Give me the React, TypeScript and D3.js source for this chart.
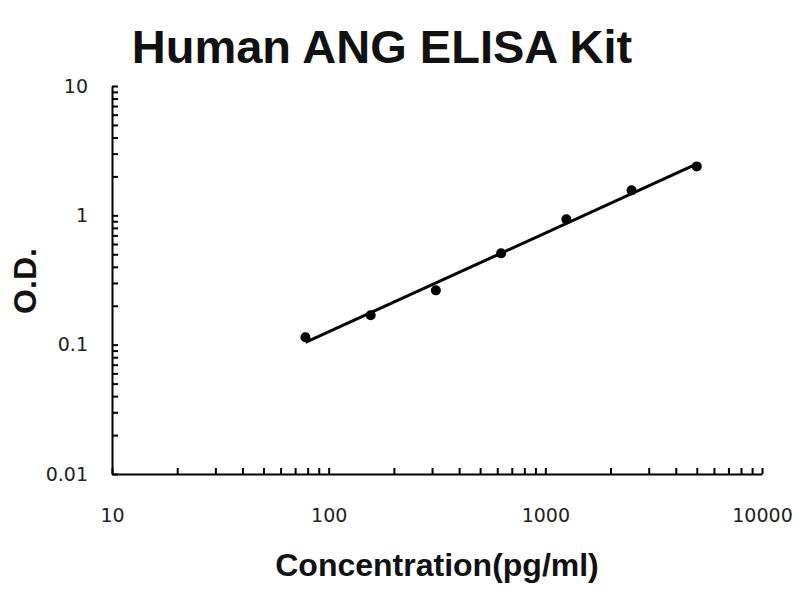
import { useEffect, useRef } from 'react'
import * as d3 from 'd3'

const title = 'Human ANG ELISA Kit'
const xLabel = 'Concentration(pg/ml)'
const yLabel = 'O.D.'

// standard curve points (pg/ml, OD)
const concentrations = [78.125, 156.25, 312.5, 625, 1250, 2500, 5000]
const odValues = [0.114, 0.169, 0.263, 0.508, 0.931, 1.56, 2.39]

const xDecades = [10, 100, 1000, 10000]
const yDecades = [0.01, 0.1, 1, 10]
const xTickLabels = ['10', '100', '1000', '10000']
const yTickLabels = ['0.01', '0.1', '1', '10']

const font = '"Liberation Sans", Arial, sans-serif'
const tickFont = '"DejaVu Sans", sans-serif'

function minorTicks(decades: number[]) {
  const out: number[] = []
  for (let i = 0; i < decades.length - 1; i++) {
    for (let k = 1; k < 10; k++) out.push(decades[i] * k)
  }
  out.push(decades[decades.length - 1])
  return out
}

export default function App() {
  const ref = useRef<SVGSVGElement>(null)

  useEffect(() => {
    if (!ref.current) return
    const svg = d3.select(ref.current)
    svg.selectAll('*').remove()

    const left = 112, right = 762, top = 86, bottom = 474

    const x = d3.scaleLog().domain([10, 10000]).range([left, right])
    const y = d3.scaleLog().domain([0.01, 10]).range([bottom, top])

    svg.append('rect').attr('width', 800).attr('height', 600).attr('fill', '#fff')

    // title
    svg.append('text')
      .attr('x', 382).attr('y', 63)
      .attr('text-anchor', 'middle')
      .style('font-family', font).style('font-weight', 'bold').style('font-size', '47px')
      .style('fill', '#111')
      .text(title)

    // x axis
    const xAxis = d3.axisBottom(x)
      .tickValues(minorTicks(xDecades))
      .tickSizeInner(-6).tickSizeOuter(0).tickPadding(35)
      .tickFormat(d => {
        const i = xDecades.indexOf(+d)
        return i >= 0 ? xTickLabels[i] : ''
      })
    const gx = svg.append('g').attr('transform', `translate(0,${bottom})`).call(xAxis)
    gx.selectAll('text').style('font-family', tickFont).style('font-size', '19px').style('fill', '#222')
    gx.selectAll('line, path').attr('stroke', '#000').attr('stroke-width', 2)

    // y axis
    const yAxis = d3.axisLeft(y)
      .tickValues(minorTicks(yDecades))
      .tickSizeInner(-6).tickSizeOuter(0).tickPadding(24)
      .tickFormat(d => {
        const i = yDecades.findIndex(v => Math.abs(v - +d) < 1e-9)
        return i >= 0 ? yTickLabels[i] : ''
      })
    const gy = svg.append('g').attr('transform', `translate(${left},0)`).call(yAxis)
    gy.selectAll('text').style('font-family', tickFont).style('font-size', '19px').style('fill', '#222')
    gy.selectAll('line, path').attr('stroke', '#000').attr('stroke-width', 2)

    // axis titles
    svg.append('text')
      .attr('x', 437).attr('y', 576)
      .attr('text-anchor', 'middle')
      .style('font-family', font).style('font-weight', 'bold').style('font-size', '32px')
      .style('fill', '#111')
      .text(xLabel)

    svg.append('text')
      .attr('transform', `translate(36,281) rotate(-90)`)
      .attr('text-anchor', 'middle')
      .style('font-family', font).style('font-weight', 'bold').style('font-size', '32px')
      .style('fill', '#111')
      .text(yLabel)

    // log-log least squares trend line
    const lx = concentrations.map(Math.log10)
    const ly = odValues.map(Math.log10)
    const mx = d3.mean(lx)!, my = d3.mean(ly)!
    const slope = d3.sum(lx, (v, i) => (v - mx) * (ly[i] - my)) / d3.sum(lx, v => (v - mx) ** 2)
    const icpt = my - slope * mx
    const fit = (c: number) => Math.pow(10, icpt + slope * Math.log10(c))
    const ends = [concentrations[0], concentrations[concentrations.length - 1]]

    svg.append('path')
      .attr('d', d3.line<number>().x(c => x(c)).y(c => y(fit(c)))(ends))
      .attr('stroke', '#000').attr('stroke-width', 3).attr('fill', 'none')

    svg.selectAll('circle.pt')
      .data(concentrations)
      .join('circle')
      .attr('class', 'pt')
      .attr('cx', c => x(c))
      .attr('cy', (_, i) => y(odValues[i]))
      .attr('r', 5)
      .attr('fill', '#000')
  }, [])

  return (
    <svg ref={ref} width={800} height={600}
      style={{ position: 'absolute', left: 0, top: 0, display: 'block' }} />
  )
}
